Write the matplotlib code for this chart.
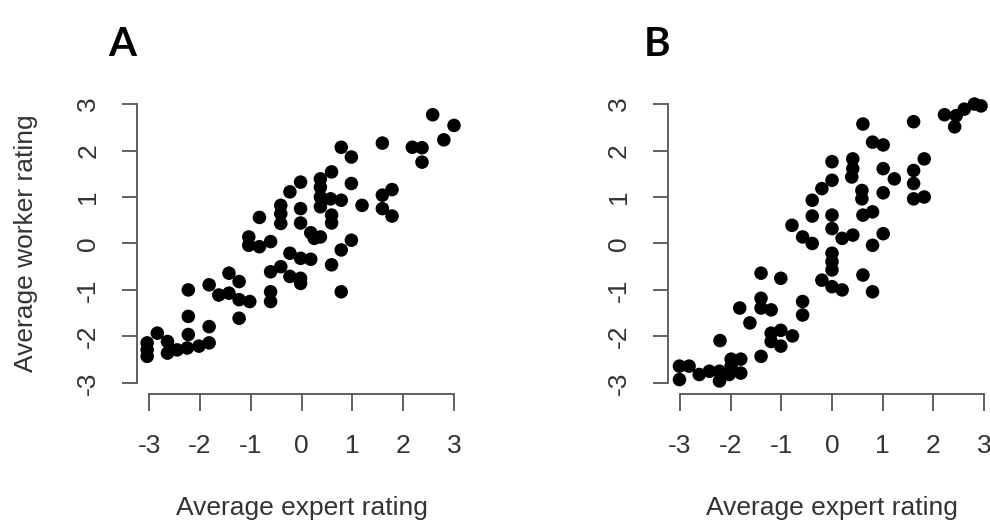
import matplotlib
matplotlib.use("Agg")
import matplotlib.pyplot as plt
import numpy as np

# Panel A: average expert rating (x) vs average worker rating (y)
a_x = [2.58, 3.0, 2.8, 1.59, 2.18, 2.37, 2.37, 0.78, 0.98, 0.59, 0.37, -0.02, -0.23, 0.37,
       0.98, 1.78, 1.59, 0.37, 0.57, 0.78, 1.19, -0.41, -0.02, 0.37, 1.59, 1.78, -0.41, -0.83,
       0.59, -0.41, -0.02, 0.59, 0.18, 0.37, 0.25, -1.04, -1.04, -0.83, -0.61, 0.98, 0.78,
       -0.23, -0.02, 0.18, -0.41, -0.61, 0.59, -0.23, -0.02, -0.02, -1.43, -1.23, -1.82, -2.23,
       -1.63, -1.43, -1.23, -1.02, -0.61, -0.61, 0.78, -1.23, -2.23, -1.82, -2.23, -2.84, -2.64,
       -3.04, -3.04, -3.04, -2.64, -2.45, -2.25, -2.02, -1.82]
a_y = [2.77, 2.54, 2.23, 2.16, 2.07, 2.06, 1.75, 2.07, 1.86, 1.54, 1.39, 1.32, 1.11, 1.21,
       1.29, 1.16, 1.04, 1.0, 0.96, 0.93, 0.82, 0.82, 0.75, 0.79, 0.75, 0.59, 0.64, 0.56,
       0.61, 0.43, 0.44, 0.44, 0.23, 0.14, 0.11, 0.14, -0.04, -0.07, 0.04, 0.07, -0.14,
       -0.21, -0.32, -0.34, -0.5, -0.61, -0.46, -0.71, -0.75, -0.86, -0.64, -0.82, -0.89, -1.0,
       -1.11, -1.07, -1.21, -1.25, -1.04, -1.25, -1.04, -1.61, -1.57, -1.79, -1.96, -1.93, -2.11,
       -2.14, -2.29, -2.43, -2.36, -2.29, -2.25, -2.21, -2.14]

# Panel B
b_x = [2.94, 2.81, 2.61, 2.45, 2.22, 2.42, 1.61, 0.61, 0.8, 1.01, 1.82, 0.41, 0.0, 0.41,
       0.39, 1.01, 1.23, 1.61, 1.61, 1.61, 1.82, 0.0, -0.2, 0.59, 0.59, 1.01, -0.39, -0.39,
       0.0, 0.61, 0.8, -0.79, -0.58, -0.39, 0.0, 0.2, 0.41, 1.01, 0.8, 0.0, 0.0, 0.0,
       -0.2, 0.0, 0.2, 0.61, 0.8, -1.4, -1.01, -1.4, -1.4, -1.2, -1.82, -1.62, -0.58, -0.58,
       -1.2, -1.01, -0.78, -1.2, -1.01, -2.21, -1.4, -1.99, -1.8, -1.99, -1.8,
       -3.01, -3.01, -2.82, -2.62, -2.42, -2.22, -2.22, -2.03]
b_y = [2.96, 3.0, 2.89, 2.75, 2.77, 2.51, 2.62, 2.57, 2.18, 2.12, 1.82, 1.82, 1.76, 1.61,
       1.43, 1.61, 1.39, 1.57, 1.29, 0.96, 1.0, 1.36, 1.18, 1.14, 0.96, 1.09, 0.93, 0.59,
       0.61, 0.61, 0.68, 0.39, 0.14, 0.0, 0.32, 0.11, 0.18, 0.21, -0.04, -0.21, -0.39, -0.57,
       -0.79, -0.93, -1.0, -0.68, -1.04, -0.64, -0.75, -1.18, -1.39, -1.43, -1.39, -1.71, -1.25, -1.54,
       -1.93, -1.87, -1.99, -2.11, -2.21, -2.09, -2.43, -2.49, -2.49, -2.64, -2.79,
       -2.64, -2.93, -2.64, -2.82, -2.75, -2.75, -2.96, -2.82]

ticks = [-3, -2, -1, 0, 1, 2, 3]
tick_labels = ["-3", "-2", "-1", "0", "1", "2", "3"]
panel_letters = ["A", "B"]
x_label = "Average expert rating"
y_label = "Average worker rating"

W, H = 990, 525
fig = plt.figure(figsize=(W / 100, H / 100), dpi=100)
fig.patch.set_facecolor("white")

font = "Liberation Sans"
txt_col = "#333333"
ax_col = "#555555"

def px_axes(left, right, top, bottom):
    return [left / W, 1 - bottom / H, (right - left) / W, (bottom - top) / H]

axA = fig.add_axes(px_axes(137, 466.2, 92.9, 394))
axB = fig.add_axes(px_axes(667.8, 996.2, 92.9, 394))

for ax, xs, ys in [(axA, a_x, a_y), (axB, b_x, b_y)]:
    ax.scatter(xs, ys, s=95, c="black", edgecolors="none", zorder=3, clip_on=False)
    ax.set_xlim(-3.24, 3.24)
    ax.set_ylim(-3.24, 3.24)
    for s in ["top", "right"]:
        ax.spines[s].set_visible(False)
    for s in ["left", "bottom"]:
        ax.spines[s].set_bounds(-3, 3)
        ax.spines[s].set_color(ax_col)
        ax.spines[s].set_linewidth(1.3)
    ax.set_xticks(ticks)
    ax.set_yticks(ticks)
    ax.set_xticklabels(tick_labels, fontsize=19, family=font, color=txt_col)
    ax.set_yticklabels(tick_labels, fontsize=19, family=font, color=txt_col,
                       rotation=90, va="center")
    ax.tick_params(axis="x", length=12.5, width=1.3, color=ax_col, pad=16.5, direction="out")
    ax.tick_params(axis="y", length=11, width=1.3, color=ax_col, pad=15.5, direction="out")
    ax.set_xlabel(x_label, fontsize=19, family=font, color=txt_col)
    ax.xaxis.set_label_coords(0.5, (29 - 131) / 301.1)
    ax.set_facecolor("white")

axA.set_ylabel(y_label, fontsize=19, family=font, color=txt_col)
axA.yaxis.set_label_coords((38 - 137) / 329.2, 0.5)

fig.text(122 / W, 1 - 45 / H, panel_letters[0], fontsize=29, fontweight="bold",
         family="Lato", ha="center", va="center", color="black")
fig.text(657 / W, 1 - 45 / H, panel_letters[1], fontsize=29, fontweight="bold",
         family="Lato", ha="center", va="center", color="black")

fig.savefig("out.png", dpi=100, facecolor="white")
